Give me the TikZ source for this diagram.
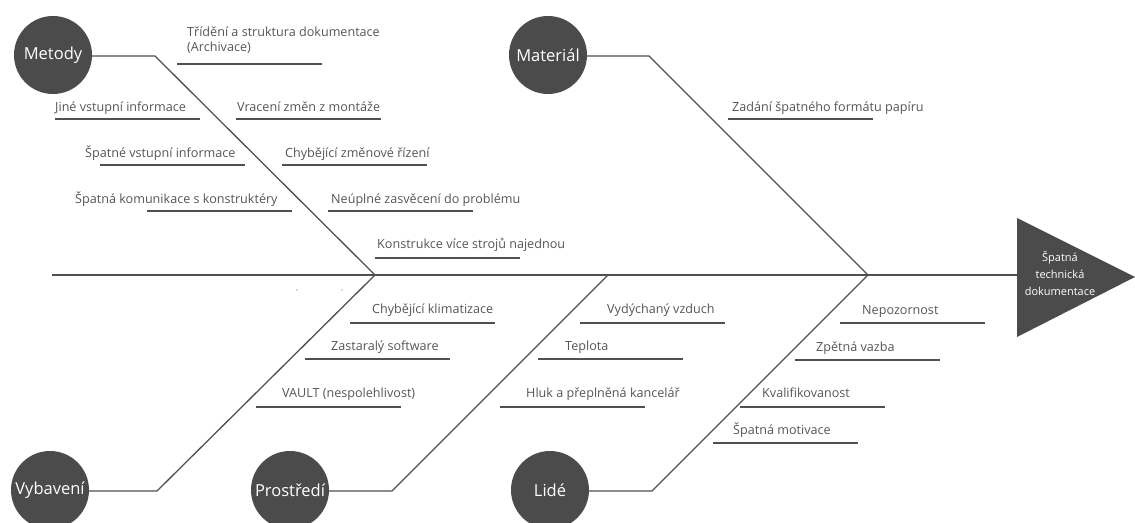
\documentclass[tikz,border=0pt]{standalone}
\usepackage{fontspec}
\setmainfont{Open Sans}
\definecolor{fishdark}{HTML}{4B4B4B}
\definecolor{bonegray}{HTML}{505050}
\definecolor{labelgray}{HTML}{555555}
\begin{document}
\begin{tikzpicture}[x=1pt,y=-1pt,
  category/.style={circle, fill=fishdark, text=white, minimum size=78pt,
    inner sep=0pt, font=\fontsize{16.5}{18}\selectfont},
  bone/.style={draw=bonegray, line width=1.3pt, line join=miter},
  cause/.style={anchor=base west, inner sep=0pt, text=labelgray,
    font=\fontsize{12.6}{15}\selectfont},
  underline/.style={draw=bonegray, line width=1.1pt}]
\useasboundingbox (0,0) rectangle (1135,522);
\clip (0,0) rectangle (1135,522);

% effect head
\fill[fishdark] (1017,218) -- (1135,277) -- (1017,337) -- cycle;
\node[text=white, align=center, inner sep=0pt,
  font=\fontsize{11}{17}\selectfont] (effect) at (1060,273)
  {Špatná\\technická\\dokumentace};
\coordinate (head) at (1017,275);
\coordinate (tail) at (52,275);
\coordinate (j1) at (375,275);
\coordinate (j2) at (608,275);
\coordinate (j3) at (868,275);

% spine
\draw[bone] (tail) -- (head);

% categories
\node[category] (metody) at (53,55) {Metody};
\node[category] (material) at (548,55) {Materiál};
\node[category] (vybaveni) at (50,490) {Vybavení};
\node[category] (prostredi) at (290,490) {Prostředí};
\node[category] (lide) at (550,490) {Lidé};

\coordinate (k1) at (155,56);
\coordinate (k2) at (649,56);
\coordinate (k3) at (157,491);
\coordinate (k4) at (392,491);
\coordinate (k5) at (652,491);

\draw[bone] (metody.east |- k1) -- (k1) -- (j1);
\draw[bone] (material.east |- k2) -- (k2) -- (j3);
\draw[bone] (vybaveni.east |- k3) -- (k3) -- (j1);
\draw[bone] (prostredi.east |- k4) -- (k4) -- (j2);
\draw[bone] (lide.east |- k5) -- (k5) -- (j3);

% causes: Metody (a multi-line node sits on its last baseline)
\node[cause, align=left] (c1) at (187,51.5) {Třídění a struktura dokumentace\\(Archivace)};
\draw[underline] (177,64) -- ++(145,0);
\node[cause] (c2) at (55,111.5) {Jiné vstupní informace};
\draw[underline] (55,119) -- ++(145,0);
\node[cause] (c3) at (237,111.5) {Vracení změn z montáže};
\draw[underline] (236,119) -- ++(145,0);
\node[cause] (c4) at (85,157.5) {Špatné vstupní informace};
\draw[underline] (100,165) -- ++(145,0);
\node[cause] (c5) at (285,157.5) {Chybějící změnové řízení};
\draw[underline] (282,165) -- ++(145,0);
\node[cause] (c6) at (75,203.5) {Špatná komunikace s konstruktéry};
\draw[underline] (147,211) -- ++(145,0);
\node[cause] (c7) at (331,203.5) {Neúplné zasvěcení do problému};
\draw[underline] (328,211) -- ++(145,0);
\node[cause] (c8) at (377,248.5) {Konstrukce více strojů najednou};
\draw[underline] (375,258) -- ++(145,0);

% causes: Materiál
\node[cause] (c9) at (732,111.5) {Zadání špatného formátu papíru};
\draw[underline] (728,119) -- ++(145,0);

% causes: Vybavení
\node[cause] (c10) at (372,313.5) {Chybějící klimatizace};
\draw[underline] (350,323) -- ++(145,0);
\node[cause] (c11) at (331,350.5) {Zastaralý software};
\draw[underline] (305,359) -- ++(145,0);
\node[cause] (c12) at (282,397.5) {VAULT (nespolehlivost)};
\draw[underline] (256,407) -- ++(145,0);

% causes: Prostředí
\node[cause] (c13) at (607,313.5) {Vydýchaný vzduch};
\draw[underline] (580,323) -- ++(145,0);
\node[cause] (c14) at (565,350.5) {Teplota};
\draw[underline] (538,359) -- ++(145,0);
\node[cause] (c15) at (526,397.5) {Hluk a přeplněná kancelář};
\draw[underline] (500,407) -- ++(145,0);

% causes: Lidé
\node[cause] (c16) at (862,314) {Nepozornost};
\draw[underline] (840,323) -- ++(145,0);
\node[cause] (c17) at (816,351) {Zpětná vazba};
\draw[underline] (795,360) -- ++(145,0);
\node[cause] (c18) at (762,397.5) {Kvalifikovanost};
\draw[underline] (740,407) -- ++(145,0);
\node[cause] (c19) at (733,434.5) {Špatná motivace};
\draw[underline] (713,443) -- ++(145,0);

% stray specks below the spine
\fill[labelgray] (297,290) circle (0.7);
\fill[labelgray] (342,290) circle (0.7);
\end{tikzpicture}
\end{document}
